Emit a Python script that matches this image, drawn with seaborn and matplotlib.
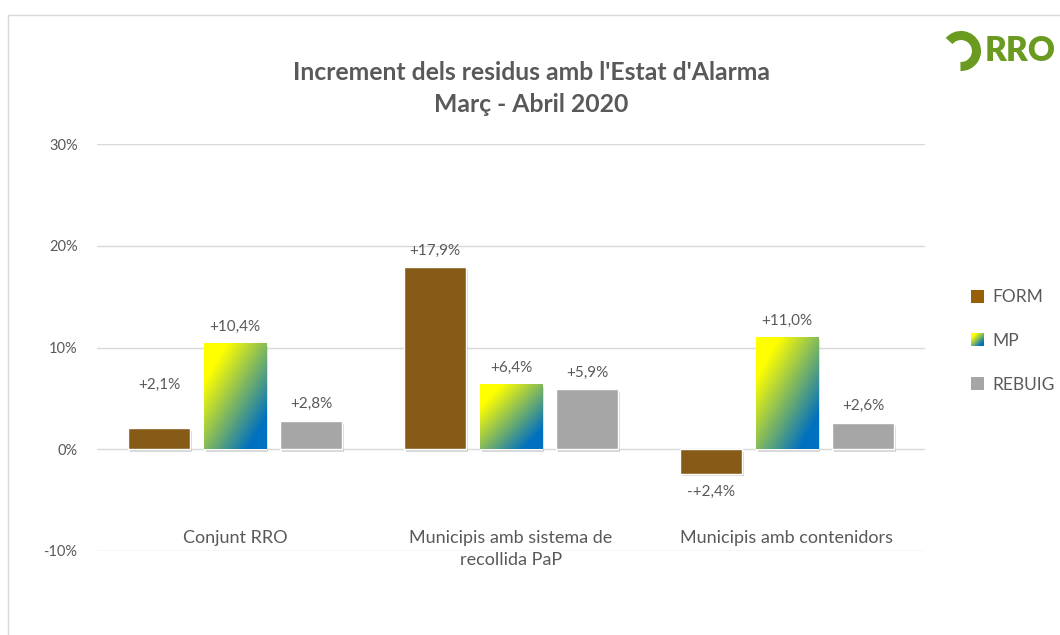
import numpy as np
import pandas as pd
import matplotlib
matplotlib.use("Agg")
import matplotlib.pyplot as plt
import matplotlib.patheffects as pe
from matplotlib.patches import Patch, Rectangle, Arc
from matplotlib.colors import LinearSegmentedColormap
import seaborn as sns

# --- données ---
categories = ["Conjunt RRO", "Municipis amb sistema de\nrecollida PaP", "Municipis amb contenidors"]
series = ["FORM", "MP", "REBUIG"]
form_vals = [2.1, 17.9, -2.4]
mp_vals = [10.4, 6.4, 11.0]
rebuig_vals = [2.8, 5.9, 2.6]
form_labels = ["+2,1%", "+17,9%", "-+2,4%"]
mp_labels = ["+10,4%", "+6,4%", "+11,0%"]
rebuig_labels = ["+2,8%", "+5,9%", "+2,6%"]
y_ticks = [-10, 0, 10, 20, 30]

df = pd.DataFrame({
    "cat": categories * 3,
    "serie": [s for s in series for _ in categories],
    "val": form_vals + mp_vals + rebuig_vals,
})

TXT = "#595959"
palette = {"FORM": "#985F06", "MP": "#80A870", "REBUIG": "#A6A6A6"}
grad = LinearSegmentedColormap.from_list(
    "mp", [(0, "#FFFF00"), (0.18, "#FFFF00"), (0.85, "#0070C0"), (1, "#0070C0")])

sns.set_style("white")
plt.rcParams["font.family"] = ["Lato", "DejaVu Sans"]

fig = plt.figure(figsize=(10.6, 6.35), dpi=100)
ax = fig.add_axes([97 / 1060, 1 - 551 / 635, 828 / 1060, 407 / 635])

sns.barplot(data=df, x="cat", y="val", hue="serie", palette=palette,
            width=0.825, gap=0.18, ax=ax, legend=False, zorder=3)

ax.set_ylim(-10, 30)
ax.set_xlim(-0.5, 2.5)
ax.set_yticks(y_ticks)
ax.set_yticklabels([f"{t}%" for t in y_ticks], color=TXT, fontsize=10.5)
ax.yaxis.grid(True, color="#D9D9D9", lw=1)
ax.set_axisbelow(True)
for s in ax.spines.values():
    s.set_visible(False)
ax.tick_params(axis="y", length=0, pad=14)
ax.tick_params(axis="x", length=0, pad=-15)
ax.set_xticklabels(categories, color=TXT, fontsize=13, linespacing=1.45)
for t in ax.get_xticklabels():
    t.set_verticalalignment("top")
ax.set_xlabel("")
ax.set_ylabel("")

shadow = [pe.SimplePatchShadow(offset=(1.5, -2), alpha=0.3, shadow_rgbFace="#808080"), pe.Normal()]
labels = [form_labels, mp_labels, rebuig_labels]
u, v = np.meshgrid(np.linspace(0, 1, 100), np.linspace(0, 1, 100))
gimg = (u + v) / 2  # ligne 0 = haut : jaune en haut à gauche
for i, cont in enumerate(ax.containers):
    for j, bar in enumerate(cont):
        bar.set_path_effects(shadow)
        x0, y0 = bar.get_x(), bar.get_y()
        w, h = bar.get_width(), bar.get_height()
        if series[i] == "MP":
            im = ax.imshow(gimg, cmap=grad, extent=[x0, x0 + w, y0, y0 + h],
                           origin="upper", aspect="auto", zorder=4,
                           interpolation="bilinear", vmin=0, vmax=1)
            im.set_clip_path(bar)
        if h >= 0:
            off = 31 if (i == 0 and j == 0) else 12
            ax.annotate(labels[i][j], (x0 + w / 2, y0 + h), xytext=(0, off),
                        textcoords="offset points", ha="center", va="center",
                        fontsize=11, color=TXT)
        else:
            ax.annotate(labels[i][j], (x0 + w / 2, y0 + h), xytext=(0, -13),
                        textcoords="offset points", ha="center", va="center",
                        fontsize=11, color=TXT)
ax.set_xlim(-0.5, 2.5)
ax.set_ylim(-10, 30)

# titre
fig.text(531 / 1060, 1 - 73 / 635, "Increment dels residus amb l'Estat d'Alarma",
         ha="center", va="center", fontsize=17.8, fontweight="bold", color=TXT)
fig.text(531 / 1060, 1 - 104 / 635, "Març - Abril 2020",
         ha="center", va="center", fontsize=17.8, fontweight="bold", color=TXT)

# légende
handles = [Patch(facecolor=palette[s], edgecolor="none", label=s) for s in series]
leg = fig.legend(handles=handles, loc="center left", bbox_to_anchor=(955 / 1060, 1 - 341 / 635),
                 frameon=False, fontsize=12.5, handlelength=0.75, handleheight=0.75,
                 handletextpad=0.5, labelspacing=1.6, labelcolor=TXT)
fig.canvas.draw()
hb = leg.legend_handles[1].get_window_extent()
n = int(round(hb.width))
gu, gv = np.meshgrid(np.linspace(0, 1, n), np.linspace(1, 0, n))
rgba = grad((gu + gv) / 2)
fig.figimage(rgba, xo=int(round(hb.x0)), yo=int(round(hb.y0)), origin="lower", zorder=10)

# cadre
fig.patches.append(Rectangle((8 / 1060, -0.1), 1.2, 1.1 - 15 / 635, transform=fig.transFigure,
                             fill=False, edgecolor="#D9D9D9", lw=1, figure=fig))

# logo
green = "#6A9A1F"
fig.patches.append(Arc((9.61, 6.35 - 0.51), 0.31, 0.31, theta1=-92, theta2=140, lw=6.5,
                       color=green, transform=fig.dpi_scale_trans, figure=fig))
fig.text(985 / 1060, 1 - 51 / 635, "RRO", ha="left", va="center", fontsize=24,
         fontweight="heavy", color=green)

fig.savefig("out.png", dpi=100)
